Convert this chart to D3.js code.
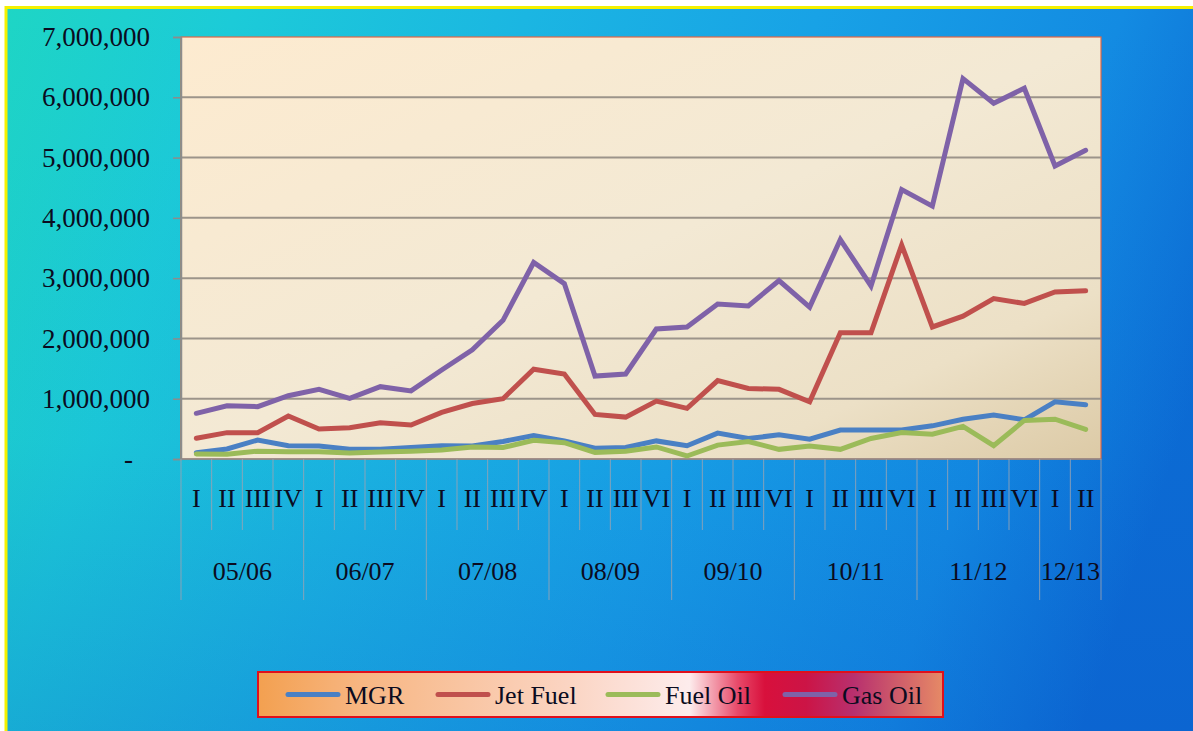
<!DOCTYPE html>
<html>
<head>
<meta charset="utf-8">
<script src="https://cdn.jsdelivr.net/npm/d3@7"></script>
<style>
html,body{margin:0;padding:0;background:#fff;}
svg{display:block;}
text{font-family:"Liberation Serif","Times New Roman",serif;fill:#0b0b20;}
</style>
</head>
<body>
<svg id="chart" width="1193" height="731"></svg>
<script>
// ---- data ----
const years = ["05/06","06/07","07/08","08/09","09/10","10/11","11/12","12/13"];
const quartersPerYear = [
  ["I","II","III","IV"],["I","II","III","IV"],["I","II","III","IV"],
  ["I","II","III","VI"],["I","II","III","VI"],["I","II","III","VI"],
  ["I","II","III","VI"],["I","II"]
];
const seriesNames = ["MGR","Jet Fuel","Fuel Oil","Gas Oil"];
const seriesColors = ["#4a80c4","#c0504d","#9bbb59","#7f62a8"];
const mgr  = [105000,166000,315000,220000,215000,160000,160000,190000,220000,215000,290000,390000,300000,180000,190000,300000,220000,430000,340000,400000,330000,480000,480000,480000,550000,660000,730000,650000,950000,900000];
const jetFuel = [343000,437000,437000,713000,497000,520000,600000,564000,774000,920000,1000000,1490000,1410000,740000,695000,960000,840000,1300000,1170000,1156000,950000,2095000,2095000,3550000,2190000,2370000,2660000,2580000,2770000,2790000];
const fuelOil = [83000,80000,130000,120000,120000,100000,115000,130000,150000,200000,190000,310000,270000,110000,130000,200000,50000,230000,290000,160000,215000,160000,340000,440000,410000,540000,220000,640000,660000,490000];
const gasOil = [758000,884000,868000,1050000,1156000,1006000,1200000,1130000,1476000,1810000,2300000,3260000,2910000,1376000,1410000,2156000,2190000,2570000,2540000,2960000,2520000,3640000,2870000,4470000,4195000,6310000,5900000,6150000,4860000,5120000];
const yTicks = [0,1000000,2000000,3000000,4000000,5000000,6000000,7000000];

const seriesValues = [mgr, jetFuel, fuelOil, gasOil];

// categories
const categories = [];
years.forEach((yr,yi)=>quartersPerYear[yi].forEach((q,qi)=>categories.push({key:yr+"-"+qi, year:yr, q:q, first:qi===0})));

const svg = d3.select("#chart");
const W = 1193, H = 731;
const defs = svg.append("defs");

// background gradient
const bg = defs.append("linearGradient").attr("id","bg").attr("gradientUnits","userSpaceOnUse")
  .attr("x1",0).attr("y1",0).attr("x2",W).attr("y2",400);
[[0,"#1ed6c4"],[0.18,"#1ccbd8"],[0.4,"#1bb6e2"],[0.62,"#18a2e6"],[0.85,"#138be2"],[1.0,"#0c6cd4"]].forEach(s=>bg.append("stop").attr("offset",s[0]).attr("stop-color",s[1]));
const bg2 = defs.append("linearGradient").attr("id","bg2").attr("x1","0").attr("y1","0").attr("x2","0").attr("y2","1");
bg2.append("stop").attr("offset",0).attr("stop-color","#0a50c8").attr("stop-opacity",0);
bg2.append("stop").attr("offset",0.6).attr("stop-color","#0a50c8").attr("stop-opacity",0.05);
bg2.append("stop").attr("offset",1).attr("stop-color","#0a50c8").attr("stop-opacity",0.25);
const pg = defs.append("linearGradient").attr("id","pg").attr("x1","0").attr("y1","0").attr("x2","1").attr("y2","1");
[[0,"#fdebd0"],[0.5,"#f3e9d4"],[0.8,"#ece0c6"],[1,"#dccaa6"]].forEach(s=>pg.append("stop").attr("offset",s[0]).attr("stop-color",s[1]));
const lg = defs.append("linearGradient").attr("id","lg").attr("x1","0").attr("y1","0").attr("x2","1").attr("y2","0");
[[0,"#f3a050"],[0.15,"#f7b682"],[0.45,"#fbd4c2"],[0.63,"#fdecec"],[0.7,"#e84a6a"],[0.74,"#d8103c"],[0.8,"#cc1446"],[0.87,"#b8306e"],[1,"#e68a66"]].forEach(s=>lg.append("stop").attr("offset",s[0]).attr("stop-color",s[1]));

svg.append("rect").attr("x",6).attr("y",7).attr("width",W-6).attr("height",H-7).attr("fill","url(#bg)");
svg.append("rect").attr("x",6).attr("y",7).attr("width",W-6).attr("height",H-7).attr("fill","url(#bg2)");
svg.append("line").attr("x1",6).attr("x2",W).attr("y1",7.5).attr("y2",7.5).attr("stroke","#f4f000").attr("stroke-width",3);
svg.append("line").attr("x1",6).attr("x2",6).attr("y1",6).attr("y2",H).attr("stroke","#f4f000").attr("stroke-width",3);

const pLeft = 181, pRight = 1101, pTop = 37, pBottom = 459;
const x = d3.scaleBand().domain(categories.map(c=>c.key)).range([pLeft,pRight]);
const y = d3.scaleLinear().domain([0,7000000]).range([pBottom,pTop]);

// plot area
svg.append("rect").attr("x",pLeft).attr("y",pTop).attr("width",pRight-pLeft).attr("height",pBottom-pTop)
  .attr("fill","url(#pg)").attr("stroke","#e06848").attr("stroke-width",1.2);

// gridlines
svg.append("g").selectAll("line").data(yTicks.filter(t=>t>0 && t<7000000)).join("line")
  .attr("x1",pLeft).attr("x2",pRight).attr("y1",d=>y(d)).attr("y2",d=>y(d))
  .attr("stroke","#9c948a").attr("stroke-width",2);

// y axis
const yAxis = d3.axisLeft(y).tickValues(yTicks).tickSize(8).tickPadding(24)
  .tickFormat(d=>d===0?"-":d3.format(",")(d));
const ya = svg.append("g").attr("transform",`translate(${pLeft},0)`).call(yAxis);
ya.select(".domain").attr("stroke","#8c8c8c").attr("stroke-width",1.5);
ya.selectAll(".tick line").attr("stroke","#8c8c8c").attr("stroke-width",1.5);
ya.selectAll(".tick text").style("font-size","27px").style("font-family","Liberation Serif").attr("fill","#0b0b20")
  .attr("x",d=>d===0?-48:-31);

// x axis line
svg.append("line").attr("x1",pLeft).attr("x2",pRight).attr("y1",pBottom).attr("y2",pBottom).attr("stroke","#8c8c8c").attr("stroke-width",1.5);

// category separators
const bounds = categories.map((c,i)=>({x:x(c.key), long:c.first}));
bounds.push({x:pRight, long:true});
svg.append("g").selectAll("line").data(bounds).join("line")
  .attr("x1",d=>d.x).attr("x2",d=>d.x).attr("y1",pBottom).attr("y2",d=>d.long?600:530)
  .attr("stroke","#9aa4b4").attr("stroke-width",1).attr("opacity",0.85);

// quarter labels
svg.append("g").selectAll("text").data(categories).join("text")
  .attr("x",d=>x(d.key)+x.bandwidth()/2).attr("y",507)
  .attr("text-anchor","middle").style("font-size","26px").text(d=>d.q);

// year labels
svg.append("g").selectAll("text").data(years).join("text")
  .attr("x",(d,i)=>{const cs=categories.filter(c=>c.year===d);return (x(cs[0].key)+x(cs[cs.length-1].key)+x.bandwidth())/2;})
  .attr("y",580).attr("text-anchor","middle").style("font-size","26px").text(d=>d);

// lines
const line = d3.line().x((d,i)=>x(categories[i].key)+x.bandwidth()/2).y(d=>y(d));
svg.append("g").selectAll("path").data(seriesValues).join("path")
  .attr("d",d=>line(d)).attr("fill","none").attr("stroke",(d,i)=>seriesColors[i])
  .attr("stroke-width",5).attr("stroke-linejoin","miter").attr("stroke-linecap","round");

// legend
const lgX = 258, lgY = 672, lgW = 685, lgH = 45;
svg.append("rect").attr("x",lgX).attr("y",lgY).attr("width",lgW).attr("height",lgH)
  .attr("fill","url(#lg)").attr("stroke","#e0101c").attr("stroke-width",2);
const legendStarts = [288,438,608,785];
const lgItems = svg.append("g").selectAll("g").data(seriesNames).join("g")
  .attr("transform",(d,i)=>`translate(${legendStarts[i]},${lgY+lgH/2})`);
lgItems.append("line").attr("x1",0).attr("x2",50).attr("y1",0).attr("y2",0)
  .attr("stroke",(d,i)=>seriesColors[i]).attr("stroke-width",5).attr("stroke-linecap","round");
lgItems.append("text").attr("x",57).attr("y",9).style("font-size","26px").text(d=>d);
</script>
</body>
</html>
